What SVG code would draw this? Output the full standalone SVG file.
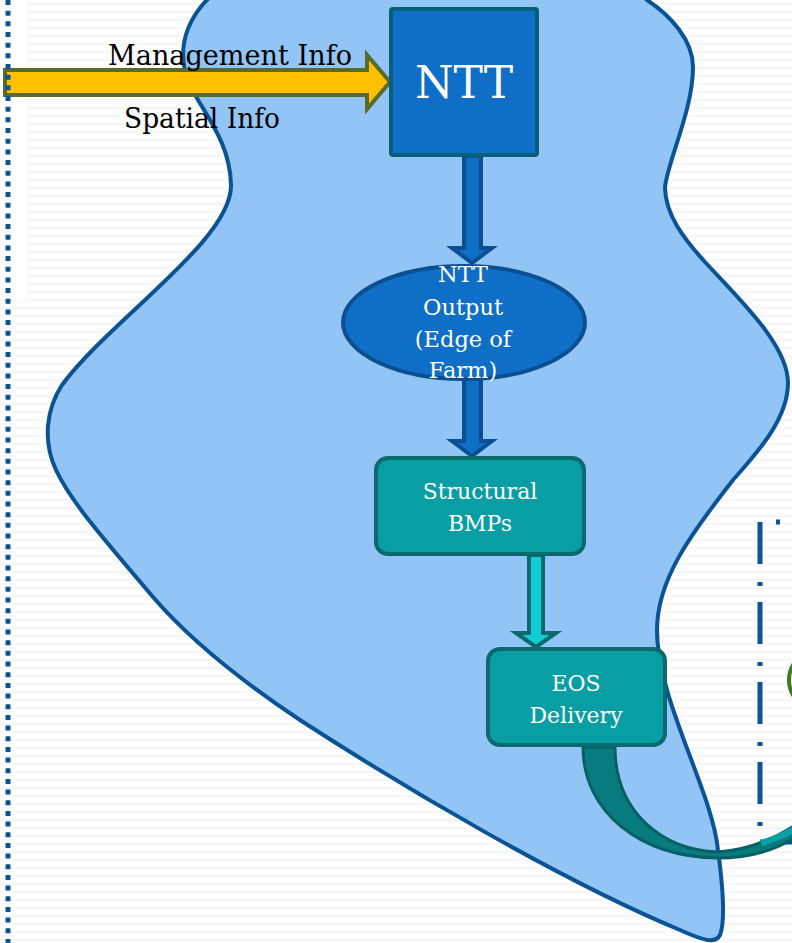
<svg xmlns="http://www.w3.org/2000/svg" width="792" height="943" viewBox="0 0 792 943">
<defs>
<pattern id="zz" width="8" height="8" patternUnits="userSpaceOnUse">
<path d="M0,5 L2,3 L4,5 L6,3 L8,5" fill="none" stroke="#f1f1f1" stroke-width="1"/>
</pattern>
<style>
.blob{fill:#92c5f5;stroke:#0b5394;stroke-width:4}
.lbl{font-family:"DejaVu Serif","Liberation Serif",serif;fill:#000}
.wt{font-family:"DejaVu Serif","Liberation Serif",serif;fill:#fff;text-anchor:middle}
.blue{fill:#0f6ec6;stroke:#0b4f91;stroke-width:4}
.teal{fill:#089ea3;stroke:#0a6a6e;stroke-width:4}
</style>
</defs>
<rect width="792" height="943" fill="#fdfdfd"/>
<rect width="792" height="943" fill="url(#zz)"/>
<rect x="0" y="0" width="26" height="300" fill="#ffffff"/>

<path id="watershed" class="blob" d="M 212,-5 C 190,15 180,40 184,65 C 188,100 230,130 231,185 C 232,240 110,320 62,385 C 47,408 42,440 56,470 C 70,500 100,535 153,597 C 190,640 240,680 300,720 C 400,785 560,880 680,930 C 700,939 715,945 720,935 C 726,920 722,880 718,850 C 712,790 657,700 657,630 C 657,580 690,535 733,480 C 755,455 788,420 788,383 C 788,345 740,300 705,262 C 685,240 665,215 665,187 C 668,160 693,110 693,67 C 693,40 670,15 647,0 L 630,-20 L 225,-20 Z"/>

<path d="M 800,522 L 760,522 L 760,842 L 800,842" fill="none" stroke="#0b5394" stroke-width="5" stroke-dasharray="42 18 4 16" stroke-dashoffset="40"/>
<circle cx="819" cy="680" r="30" fill="none" stroke="#3b7d23" stroke-width="4"/>

<g id="connectors">
<path d="M 583,747 C 583,812 640,857 718,858 C 750,858 775,850 794,838 L 794,826 C 772,840 748,850 718,852 C 662,850 615,812 615,747 Z" fill="#087b7e" stroke="#066064" stroke-width="3"/>
<path d="M 762,846 C 775,842 785,838 794,833 L 794,826 C 783,832 772,837 760,840 Z" fill="#0aa0a5"/>
<polygon points="5,70 367,70 367,55 390,82 367,109 367,95 5,95" fill="#ffc000" stroke="#586b2b" stroke-width="4" stroke-linejoin="miter"/>
<polygon class="blue" points="464,156 481,156 481,248 492,248 472,263 452,248 464,248"/>
<polygon class="blue" points="464,375 481,375 481,441 492,441 472,456 452,441 464,441"/>
<polygon points="529,555 543,555 543,633 556,633 536,647 516,633 529,633" fill="#12cdd6" stroke="#0a6a6e" stroke-width="4"/>
</g>

<path d="M 8,0 L 8,943" stroke="#0b5394" stroke-width="5" stroke-dasharray="5 5.67"/>

<text class="lbl" x="108" y="65" font-size="27.5" textLength="244" lengthAdjust="spacingAndGlyphs">Management Info</text>
<text class="lbl" x="124" y="128" font-size="27.5" textLength="156" lengthAdjust="spacingAndGlyphs">Spatial Info</text>

<g id="ntt">
<rect x="391" y="9" width="146" height="146" rx="2" fill="#0f6ec6" stroke="#06607a" stroke-width="4"/>
<text class="wt" x="464" y="98" font-size="44">NTT</text>
</g>

<g id="ntt-output">
<ellipse cx="464" cy="322.5" rx="121" ry="56.5" class="blue"/>
<text class="wt" font-size="22.5"><tspan x="463" y="282">NTT</tspan><tspan x="463" y="315">Output</tspan><tspan x="463" y="347">(Edge of</tspan><tspan x="463" y="378">Farm)</tspan></text>
</g>

<g id="structural-bmps">
<rect x="376" y="458" width="208" height="96" rx="12" class="teal"/>
<text class="wt" font-size="22"><tspan x="480" y="499">Structural</tspan><tspan x="480" y="531">BMPs</tspan></text>
</g>

<g id="eos-delivery">
<rect x="488" y="649" width="177" height="96" rx="12" class="teal"/>
<text class="wt" font-size="22"><tspan x="576" y="691">EOS</tspan><tspan x="576" y="723">Delivery</tspan></text>
</g>
</svg>
